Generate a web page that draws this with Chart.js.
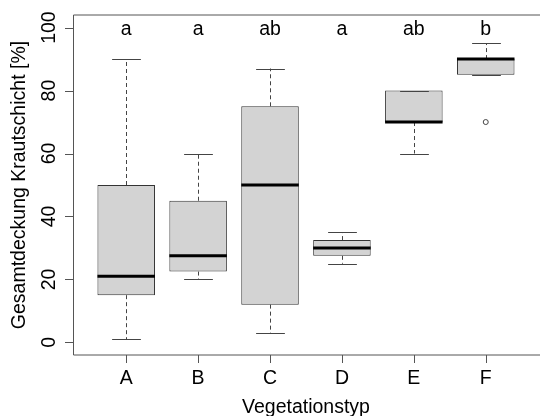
<!DOCTYPE html>
<html>
<head>
<meta charset="utf-8">
<script src="https://cdn.jsdelivr.net/npm/chart.js@4/dist/chart.umd.min.js"></script>
<style>
html,body{margin:0;padding:0;background:#fff;overflow:hidden;}
canvas{display:block;}
</style>
</head>
<body>
<canvas id="c" width="540" height="416"></canvas>
<script>
// ---- data ----
const categories = ['A', 'B', 'C', 'D', 'E', 'F'];
const whiskerLow  = [1, 20, 3, 25, 60, 85];
const quartile1   = [15, 22.5, 12, 27.5, 70, 85];
const medians     = [21, 27.5, 50, 30, 70, 90];
const quartile3   = [50, 45, 75, 32.5, 80, 90];
const whiskerHigh = [90, 60, 87, 35, 80, 95];
const outlierCategories = ['F'];
const outlierValues = [70];
const groupLetters = ['a', 'a', 'ab', 'a', 'ab', 'b'];
const letterLevel = 100;
const yTickValues = [0, 20, 40, 60, 80, 100];
const xTitle = 'Vegetationstyp';
const yTitle = 'Gesamtdeckung Krautschicht [%]';

const FONT = '"Liberation Sans", Arial, sans-serif';
const FS = 19.5;

const boxData = categories.map((c, i) => ({ x: i + 1, y: [quartile1[i], quartile3[i]] }));
const outlierData = outlierCategories.map((c, i) => ({ x: categories.indexOf(c) + 1, y: outlierValues[i] }));

const boxPlugin = {
  id: 'boxExtras',
  afterDatasetsDraw(chart) {
    const { ctx, scales: { x, y } } = chart;
    const capHalf = x.getPixelForValue(1.2) - x.getPixelForValue(1);
    const boxHalf = x.getPixelForValue(1.4) - x.getPixelForValue(1);
    ctx.save();
    categories.forEach((c, i) => {
      const px = Math.round(x.getPixelForValue(i + 1)) + 0.5;
      const yq1 = y.getPixelForValue(quartile1[i]);
      const yq3 = y.getPixelForValue(quartile3[i]);
      const ylo = y.getPixelForValue(whiskerLow[i]);
      const yhi = y.getPixelForValue(whiskerHigh[i]);
      ctx.strokeStyle = '#444';
      ctx.lineWidth = 1;
      ctx.setLineDash([4, 3]);
      ctx.beginPath();
      if (yhi < yq3) { ctx.moveTo(px, yq3); ctx.lineTo(px, yhi); }
      if (ylo > yq1) { ctx.moveTo(px, yq1); ctx.lineTo(px, ylo); }
      ctx.stroke();
      ctx.setLineDash([]);
      ctx.beginPath();
      ctx.moveTo(px - capHalf, Math.round(yhi) + 0.5); ctx.lineTo(px + capHalf, Math.round(yhi) + 0.5);
      ctx.moveTo(px - capHalf, Math.round(ylo) + 0.5); ctx.lineTo(px + capHalf, Math.round(ylo) + 0.5);
      ctx.stroke();
      // median
      const ym = y.getPixelForValue(medians[i]);
      ctx.strokeStyle = '#000';
      ctx.lineWidth = 3;
      ctx.beginPath();
      ctx.moveTo(x.getPixelForValue(i + 1) - boxHalf, ym);
      ctx.lineTo(x.getPixelForValue(i + 1) + boxHalf, ym);
      ctx.stroke();
    });
    ctx.restore();
  },
  afterDraw(chart) {
    const { ctx, scales: { x, y }, chartArea: a } = chart;
    ctx.save();
    // frame
    ctx.strokeStyle = '#555';
    ctx.lineWidth = 1;
    ctx.beginPath();
    ctx.moveTo(a.right + 10, a.top); ctx.lineTo(a.left + 0.5, a.top);
    ctx.lineTo(a.left + 0.5, a.bottom); ctx.lineTo(a.right + 10, a.bottom);
    ctx.stroke();
    ctx.fillStyle = '#000';
    ctx.font = FS + 'px ' + FONT;
    // y ticks
    ctx.strokeStyle = '#555';
    yTickValues.forEach(v => {
      const py = Math.round(y.getPixelForValue(v)) + 0.5;
      ctx.beginPath(); ctx.moveTo(a.left - 8, py); ctx.lineTo(a.left, py); ctx.stroke();
      ctx.save();
      ctx.translate(55, y.getPixelForValue(v));
      ctx.rotate(-Math.PI / 2);
      ctx.textAlign = 'center'; ctx.textBaseline = 'alphabetic';
      ctx.fillText(String(v), 0, 0);
      ctx.restore();
    });
    // x ticks
    categories.forEach((c, i) => {
      const px = Math.round(x.getPixelForValue(i + 1)) + 0.5;
      ctx.beginPath(); ctx.moveTo(px, a.bottom); ctx.lineTo(px, a.bottom + 8); ctx.stroke();
      ctx.textAlign = 'center'; ctx.textBaseline = 'alphabetic';
      ctx.fillText(c, x.getPixelForValue(i + 1), 383.5);
      // group letters
      ctx.fillText(groupLetters[i], x.getPixelForValue(i + 1), y.getPixelForValue(letterLevel) + 7.5);
    });
    // titles
    ctx.textAlign = 'center'; ctx.textBaseline = 'alphabetic';
    ctx.fillText(xTitle, x.getPixelForValue(3.5), 412.5);
    ctx.save();
    ctx.translate(25, (a.top + a.bottom) / 2);
    ctx.rotate(-Math.PI / 2);
    ctx.fillText(yTitle, 0, 0);
    ctx.restore();
    ctx.restore();
  }
};

new Chart(document.getElementById('c'), {
  type: 'bar',
  data: {
    datasets: [
      {
        type: 'bar',
        data: boxData,
        backgroundColor: '#D3D3D3',
        borderColor: '#333',
        borderWidth: 1,
        borderSkipped: false,
        barPercentage: 0.8,
        categoryPercentage: 1.0
      },
      {
        type: 'scatter',
        data: outlierData,
        pointRadius: 2.5,
        pointBorderWidth: 1,
        pointBorderColor: '#444',
        pointBackgroundColor: 'rgba(0,0,0,0)',
        showLine: false
      }
    ]
  },
  options: {
    responsive: false,
    animation: false,
    devicePixelRatio: 1,
    layout: { padding: { left: 73, top: 15, right: 0, bottom: 61 } },
    plugins: { legend: { display: false }, tooltip: { enabled: false } },
    scales: {
      x: { type: 'linear', display: false, min: 0.26, max: 6.685, offset: false,
           ticks: { stepSize: 1, includeBounds: false } },
      y: { type: 'linear', display: false, min: -4, max: 104, beginAtZero: false }
    }
  },
  plugins: [boxPlugin]
});
</script>
</body>
</html>
